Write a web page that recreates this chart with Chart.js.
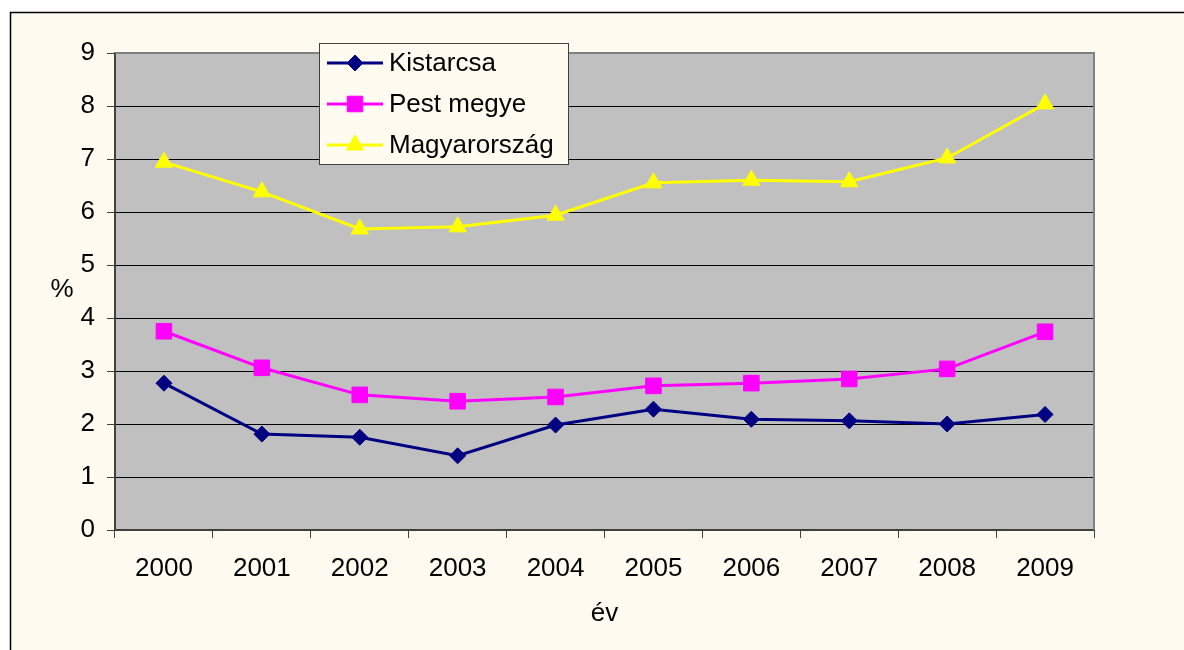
<!DOCTYPE html>
<html>
<head>
<meta charset="utf-8">
<script src="https://cdn.jsdelivr.net/npm/chart.js@4/dist/chart.umd.min.js"></script>
<style>
html,body{margin:0;padding:0;background:#ffffff;}
#wrap{position:absolute;left:0;top:0;width:1184px;height:650px;}
</style>
</head>
<body>
<div id="wrap"><canvas id="c" width="1184" height="650"></canvas></div>
<script>
const categories = ["2000","2001","2002","2003","2004","2005","2006","2007","2008","2009"];
const kistarcsa = [2.77, 1.81, 1.75, 1.40, 1.98, 2.28, 2.09, 2.06, 2.00, 2.18];
const pestMegye = [3.75, 3.06, 2.55, 2.43, 2.51, 2.72, 2.77, 2.85, 3.04, 3.74];
const magyarorszag = [6.94, 6.38, 5.68, 5.72, 5.94, 6.55, 6.60, 6.57, 7.02, 8.04];
const seriesNames = ["Kistarcsa", "Pest megye", "Magyarország"];
const yTitle = "%";
const xTitle = "év";

const FONT = "'Liberation Sans', Arial, sans-serif";
const CREAM = "#FFFBF0";

function drawMarker(ctx, style, x, y, r, color) {
  ctx.save();
  ctx.fillStyle = color;
  ctx.strokeStyle = color;
  ctx.lineWidth = 1;
  ctx.beginPath();
  if (style === 'rectRot') {
    ctx.moveTo(x, y - r); ctx.lineTo(x + r, y); ctx.lineTo(x, y + r); ctx.lineTo(x - r, y);
  } else if (style === 'rect') {
    const s = Math.SQRT1_2 * r;
    ctx.rect(x - s, y - s, 2 * s, 2 * s);
  } else if (style === 'triangle') {
    let a = 0;
    ctx.moveTo(x + Math.sin(a) * r, y - Math.cos(a) * r);
    a += 2 * Math.PI / 3;
    ctx.lineTo(x + Math.sin(a) * r, y - Math.cos(a) * r);
    a += 2 * Math.PI / 3;
    ctx.lineTo(x + Math.sin(a) * r, y - Math.cos(a) * r);
  }
  ctx.closePath();
  ctx.fill();
  ctx.stroke();
  ctx.restore();
}

const decor = {
  id: 'decor',
  beforeDraw(chart) {
    const ctx = chart.ctx, a = chart.chartArea;
    ctx.save();
    ctx.fillStyle = '#ffffff';
    ctx.fillRect(0, 0, chart.width, chart.height);
    ctx.fillStyle = CREAM;
    ctx.fillRect(11, 13, chart.width - 11, chart.height - 13);
    ctx.strokeStyle = '#000000';
    ctx.lineWidth = 1.5;
    ctx.beginPath();
    ctx.moveTo(10.5, chart.height); ctx.lineTo(10.5, 12.5); ctx.lineTo(chart.width, 12.5);
    ctx.stroke();
    ctx.fillStyle = '#C0C0C0';
    ctx.fillRect(a.left, a.top, a.right - a.left, a.bottom - a.top);
    ctx.restore();
  },
  beforeDatasetsDraw(chart) {
    const ctx = chart.ctx, a = chart.chartArea;
    ctx.save();
    ctx.strokeStyle = '#808080';
    ctx.lineWidth = 2;
    ctx.beginPath();
    ctx.moveTo(a.left, a.top); ctx.lineTo(a.right, a.top); ctx.lineTo(a.right, a.bottom);
    ctx.stroke();
    // axis titles
    ctx.fillStyle = '#000000';
    ctx.font = '26px ' + FONT;
    ctx.textAlign = 'center';
    ctx.textBaseline = 'middle';
    ctx.fillText(yTitle, 62, 290);
    ctx.fillText(xTitle, (a.left + a.right) / 2, 614);
    ctx.restore();
  },
  afterDatasetsDraw(chart) {
    const ctx = chart.ctx;
    const bx = 319, by = 43, bw = 249, bh = 121;
    ctx.save();
    ctx.fillStyle = CREAM;
    ctx.fillRect(bx, by, bw, bh);
    ctx.strokeStyle = '#404040';
    ctx.lineWidth = 1;
    ctx.strokeRect(bx + 0.5, by + 0.5, bw, bh);
    chart.data.datasets.forEach((ds, i) => {
      const y = 63 + i * 41;
      ctx.strokeStyle = ds.borderColor;
      ctx.lineWidth = 3;
      ctx.beginPath();
      ctx.moveTo(327, y); ctx.lineTo(383, y);
      ctx.stroke();
      drawMarker(ctx, ds.pointStyle, 355, y, ds.pointRadius, ds.pointBackgroundColor);
      ctx.fillStyle = '#000000';
      ctx.font = '26px ' + FONT;
      ctx.textAlign = 'left';
      ctx.textBaseline = 'middle';
      ctx.fillText(ds.label, 389, y + 1);
    });
    ctx.restore();
  }
};

const mk = (label, data, color, style, r) => ({
  label, data,
  borderColor: color,
  backgroundColor: color,
  pointBackgroundColor: color,
  pointBorderColor: color,
  pointBorderWidth: 1,
  pointStyle: style,
  pointRadius: r,
  pointHoverRadius: r,
  borderWidth: 3,
  tension: 0,
  fill: false
});

new Chart(document.getElementById('c'), {
  type: 'line',
  data: {
    labels: categories,
    datasets: [
      mk(seriesNames[0], kistarcsa, '#000080', 'rectRot', 8),
      mk(seriesNames[1], pestMegye, '#FF00FF', 'rect', 11),
      mk(seriesNames[2], magyarorszag, '#FFFF00', 'triangle', 10)
    ]
  },
  options: {
    responsive: false,
    animation: false,
    devicePixelRatio: 1,
    layout: { padding: { top: 53, right: 90, bottom: 0, left: 0 } },
    plugins: { legend: { display: false }, tooltip: { enabled: false } },
    scales: {
      x: {
        type: 'category',
        offset: true,
        grid: { offset: true, drawOnChartArea: false, tickLength: 8, tickColor: '#404040', tickWidth: 1 },
        border: { color: '#404040', width: 2 },
        ticks: { font: { size: 26, family: FONT }, color: '#000000', padding: 15, maxRotation: 0, autoSkip: false },
        afterFit(s) { s.height = 120; }
      },
      y: {
        min: 0, max: 9,
        ticks: { stepSize: 1, font: { size: 26, family: FONT }, color: '#000000', padding: 12 },
        grid: { color: '#000000', lineWidth: 1, tickLength: 8, tickColor: '#404040' },
        border: { color: '#404040', width: 2 },
        afterFit(s) { s.width = 115; }
      }
    }
  },
  plugins: [decor]
});
</script>
</body>
</html>
